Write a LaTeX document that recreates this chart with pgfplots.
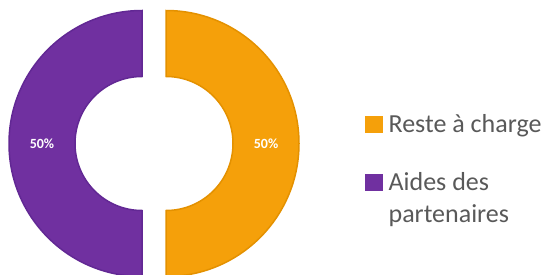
\documentclass[border=0pt]{standalone}
\usepackage{pgfplots}
\pgfplotsset{compat=1.18}
\usepackage{pgfplotstable}
\usepackage{fontspec}
\setmainfont{Carlito}
\definecolor{orfill}{RGB}{245,160,10}
\definecolor{ordraw}{RGB}{228,145,0}
\definecolor{pufill}{RGB}{112,48,160}
\definecolor{pudraw}{RGB}{98,40,148}
\definecolor{legtext}{RGB}{89,89,89}

\pgfplotstableread{
name value
Reste 50
Aides 50
}\piedata

\begin{document}
\begin{tikzpicture}
\useasboundingbox (0,0) rectangle (548pt,274pt);
\clip (0,0) rectangle (548pt,274pt);
% values from the table
\pgfplotstablegetelem{0}{value}\of\piedata \pgfmathsetmacro{\va}{\pgfplotsretval}
\pgfplotstablegetelem{1}{value}\of\piedata \pgfmathsetmacro{\vb}{\pgfplotsretval}
\pgfmathsetmacro{\tot}{\va+\vb}
\pgfmathsetmacro{\fa}{\va/\tot}
\pgfmathsetmacro{\fb}{\vb/\tot}
\pgfmathsetmacro{\aA}{90}
\pgfmathsetmacro{\aB}{\aA-360*\fa}
\pgfmathsetmacro{\aC}{\aB-360*\fb}
\pgfmathtruncatemacro{\pA}{round(100*\fa)}
\pgfmathtruncatemacro{\pB}{round(100*\fb)}
\def\cx{154}\def\cy{130.5}\def\ex{12}\def\Ro{133}\def\Ri{67}\def\Rm{100}
% slice A
\pgfmathsetmacro{\mA}{(\aA+\aB)/2}
\pgfmathsetmacro{\cxA}{\cx+\ex*cos(\mA)}
\pgfmathsetmacro{\cyA}{\cy+\ex*sin(\mA)}
\pgfmathsetmacro{\sAx}{\cxA+\Ro*cos(\aA)}
\pgfmathsetmacro{\sAy}{\cyA+\Ro*sin(\aA)}
\pgfmathsetmacro{\iAx}{\cxA+\Ri*cos(\aB)}
\pgfmathsetmacro{\iAy}{\cyA+\Ri*sin(\aB)}
\pgfmathsetmacro{\lAx}{\cxA+\Rm*cos(\mA)}
\pgfmathsetmacro{\lAy}{\cyA+\Rm*sin(\mA)}
% slice B
\pgfmathsetmacro{\mB}{(\aB+\aC)/2}
\pgfmathsetmacro{\cxB}{\cx+\ex*cos(\mB)}
\pgfmathsetmacro{\cyB}{\cy+\ex*sin(\mB)}
\pgfmathsetmacro{\sBx}{\cxB+\Ro*cos(\aB)}
\pgfmathsetmacro{\sBy}{\cyB+\Ro*sin(\aB)}
\pgfmathsetmacro{\iBx}{\cxB+\Ri*cos(\aC)}
\pgfmathsetmacro{\iBy}{\cyB+\Ri*sin(\aC)}
\pgfmathsetmacro{\lBx}{\cxB+\Rm*cos(\mB)}
\pgfmathsetmacro{\lBy}{\cyB+\Rm*sin(\mB)}
\begin{axis}[
 at={(0pt,0pt)}, anchor=south west,
 width=548pt, height=274pt, scale only axis,
 xmin=0, xmax=548, ymin=0, ymax=274,
 hide axis, clip=false,
 legend style={at={(axis cs:365,160)}, anchor=north west, draw=none, fill=none,
   inner sep=0pt, font=\fontsize{26}{32}\selectfont,
   nodes={inner sep=0pt, text depth=0pt, text=legtext},
   cells={anchor=base west}, column sep=6pt, row sep={58pt,between origins}},
 legend image code/.code={\fill[#1] (0pt,0pt) rectangle (17pt,16pt);},
]
\fill[orfill, draw=ordraw, line width=1.5pt]
  (axis cs:\sAx,\sAy) arc[start angle=\aA, end angle=\aB, radius=\Ro pt]
  -- (axis cs:\iAx,\iAy) arc[start angle=\aB, end angle=\aA, radius=\Ri pt] -- cycle;
\fill[pufill, draw=pudraw, line width=1.5pt]
  (axis cs:\sBx,\sBy) arc[start angle=\aB, end angle=\aC, radius=\Ro pt]
  -- (axis cs:\iBx,\iBy) arc[start angle=\aC, end angle=\aB, radius=\Ri pt] -- cycle;
\node[text=white, font=\bfseries\fontsize{14}{16}\selectfont] at (axis cs:\lAx,\lAy) {\pA\%};
\node[text=white, font=\bfseries\fontsize{14}{16}\selectfont] at (axis cs:\lBx,\lBy) {\pB\%};
\addlegendimage{orfill}
\addlegendentry{Reste à charge}
\addlegendimage{pufill}
\addlegendentry{\begin{tabular}[t]{@{}l@{}}Aides des\\partenaires\end{tabular}}
\end{axis}
\end{tikzpicture}
\end{document}
